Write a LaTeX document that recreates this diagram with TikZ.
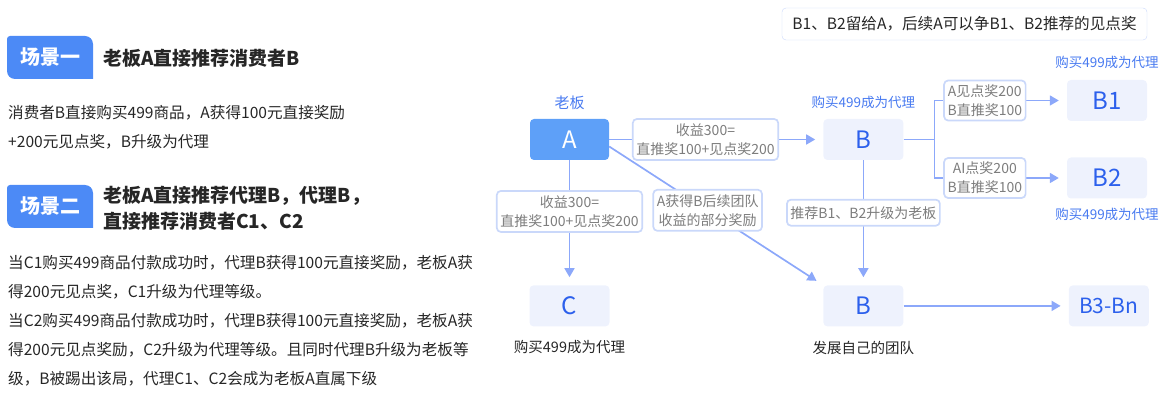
\documentclass[tikz,border=0pt]{standalone}
\usepackage{fontspec}
\setmainfont{Noto Sans CJK SC}
\usetikzlibrary{arrows.meta,positioning}
\definecolor{BadgeBlue}{RGB}{76,138,246}
\definecolor{BossBlue}{RGB}{94,160,248}
\definecolor{AgentTint}{RGB}{238,242,253}
\definecolor{LetterBlue}{RGB}{44,96,236}
\definecolor{LinkBlue}{RGB}{140,168,250}
\definecolor{FrameBlue}{RGB}{202,216,250}
\definecolor{NoteGray}{RGB}{125,125,125}
\definecolor{InkDark}{RGB}{38,38,38}
\definecolor{CaptionBlue}{RGB}{72,122,240}

\begin{document}
\begin{tikzpicture}[x=1pt, y=-1pt, >={Triangle[length=9pt,width=10pt]}]
    \tikzstyle{badge}=[text=white, inner sep=0pt, font=\fontsize{20}{20}\selectfont\bfseries]
    \tikzstyle{heading}=[text=InkDark, inner sep=0pt, align=left, font=\fontsize{19}{26}\selectfont\bfseries]
    \tikzstyle{body}=[text=InkDark, inner sep=0pt, align=left, font=\fontsize{15.6}{29}\selectfont]
    \tikzstyle{boss}=[fill=BossBlue, rounded corners=4pt, minimum width=79pt, minimum height=41pt, text=white, font=\fontsize{24}{24}\selectfont]
    \tikzstyle{agent}=[fill=AgentTint, rounded corners=4pt, minimum width=80pt, minimum height=41pt, text=LetterBlue, font=\fontsize{24}{24}\selectfont]
    \tikzstyle{gain}=[draw=FrameBlue, fill=white, rounded corners=4pt, minimum height=41pt, inner xsep=3.5pt, inner ysep=2pt, align=center, text=NoteGray, font=\fontsize{14}{19}\selectfont]
    \tikzstyle{tag}=[text=CaptionBlue, inner sep=0pt, font=\fontsize{13.5}{13.5}\selectfont]
    \tikzstyle{remark}=[text=InkDark, inner sep=0pt, font=\fontsize{14.5}{14.5}\selectfont]
    \tikzstyle{line}=[draw=LinkBlue, line width=1.7pt]
    \tikzstyle{link}=[line, ->, shorten >=8pt]

    \useasboundingbox (0,0) rectangle (1165,395);

    % scene one
    \fill[BadgeBlue] (93,79) [rounded corners=8pt] -- (7,79) [rounded corners=3pt] -- (7,36) [rounded corners=8pt] -- (93,36) [sharp corners] -- cycle;
    \node[badge] (s1) at (50,57.5) {场景一};
    \node[heading, anchor=west] (h1) at (103,58) {老板A直接推荐消费者B};
    \node[body, anchor=north west] (p1) at (8,105) {消费者B直接购买499商品，A获得100元直接奖励\\+200元见点奖，B升级为代理};

    % scene two
    \fill[BadgeBlue] (93,228) [rounded corners=8pt] -- (7,228) [rounded corners=3pt] -- (7,185) [rounded corners=8pt] -- (93,185) [sharp corners] -- cycle;
    \node[badge] (s2) at (50,206.5) {场景二};
    \node[heading, anchor=west] (h2) at (103,208) {老板A直接推荐代理B，代理B，\\直接推荐消费者C1、C2};
    \node[body, anchor=north west] (p2) at (8,255) {当C1购买499商品付款成功时，代理B获得100元直接奖励，老板A获\\得200元见点奖，C1升级为代理等级。\\当C2购买499商品付款成功时，代理B获得100元直接奖励，老板A获\\得200元见点奖励，C2升级为代理等级。且同时代理B升级为老板等\\级，B被踢出该局，代理C1、C2会成为老板A直属下级};

    % tree
    \node[boss] (A) at (569.5,139.5) {A};
    \node[agent, right=214pt of A] (Bt) {B};
    \node[agent, below=125pt of A] (C) {C};
    \node[agent, below=125pt of Bt] (Bb) {B};
    \node[agent] (B1) at (1107,100.5) {B1};
    \node[agent] (B2) at (1107,178) {B2};
    \node[agent, right=165pt of Bb, font=\fontsize{21}{21}\selectfont] (Bn) {B3-Bn};

    \node[tag, above=8.5pt of A, font=\fontsize{15}{15}\selectfont] (lA) {老板};
    \node[tag, above=9.5pt of Bt] (lBt) {购买499成为代理};
    \node[tag, above=10.5pt of B1] (lB1) {购买499成为代理};
    \node[tag, below=9.5pt of B2] (lB2) {购买499成为代理};
    \node[remark, below=14pt of C] (lC) {购买499成为代理};
    \node[remark, below=14pt of Bb] (lBb) {发展自己的团队};

    \node[draw=FrameBlue, rounded corners=4pt, minimum width=365pt, minimum height=32pt, text=InkDark, font=\fontsize{15.6}{15.6}\selectfont] (note) at (964.5,24) {B1、B2留给A，后续A可以争B1、B2推荐的见点奖};

    \draw[link] (A) -- node[gain, pos=0.45] {收益300=\\直推奖100+见点奖200} (Bt);
    \draw[link] (A) -- node[gain, pos=0.41] {收益300=\\直推奖100+见点奖200} (C);
    \draw[link] ([yshift=-7pt]A.east) -- node[gain, pos=0.46] {A获得B后续团队\\收益的部分奖励} (Bb.north west);
    \draw[link] (Bt) -- node[gain, pos=0.42, minimum height=26pt] {推荐B1、B2升级为老板} (Bb);
    \coordinate[right=31pt of Bt] (fork);
    \draw[line] (Bt) -- (fork);
    \draw[link] (fork) |- node[gain, pos=0.69, minimum height=40pt] {A见点奖200\\B直推奖100} (B1);
    \draw[link] (fork) |- node[gain, pos=0.69, minimum height=40pt] {AI点奖200\\B直推奖100} (B2);
    \draw[link] (Bb) -- (Bn);
\end{tikzpicture}
\end{document}
